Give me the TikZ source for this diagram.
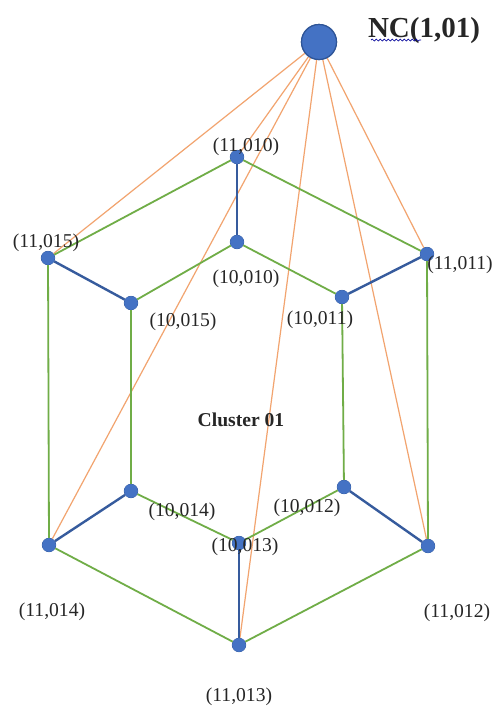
\documentclass[tikz,border=0pt]{standalone}
\usepackage{fontspec}
\setmainfont{Liberation Serif}
\usetikzlibrary{decorations.pathmorphing}
\definecolor{nblue}{HTML}{4472C4}
\definecolor{nblueedge}{HTML}{2F5597}
\definecolor{egreen}{HTML}{70AD47}
\definecolor{eorange}{HTML}{ED7D31}
\definecolor{ltxt}{HTML}{262626}
\tikzset{
  dot/.style={circle, fill=nblue, draw=nblueedge, line width=0.3pt, minimum size=6.8pt, inner sep=0pt},
  bigdot/.style={circle, fill=nblue, draw=nblueedge, line width=0.6pt, minimum size=17.5pt, inner sep=0pt},
  lbl/.style={font=\fontsize{9.8}{11}\selectfont, text=ltxt, inner sep=0pt},
  greenedge/.style={draw=egreen, line width=0.9pt},
  blueedge/.style={draw=nblue!80!black, line width=1.2pt},
  orangeedge/.style={draw=eorange!70!white, line width=0.6pt},
}
\begin{document}
\begin{tikzpicture}[x=0.5pt, y=-0.5pt]
\useasboundingbox (0,0) rectangle (501,713);
\fill[white] (0,0) rectangle (501,713);
% nodes
\node[bigdot] (nc) at (319,42) {};
\node[dot] (o10) at (237,157) {};
\node[dot] (i10) at (237,242) {};
\node[dot] (o15) at (48,258) {};
\node[dot] (i15) at (131,303) {};
\node[dot] (o11) at (427,254) {};
\node[dot] (i11) at (342,297) {};
\node[dot] (i14) at (131,491) {};
\node[dot] (o14) at (49,545) {};
\node[dot] (i13) at (239,543) {};
\node[dot] (o13) at (239,645) {};
\node[dot] (i12) at (344,487) {};
\node[dot] (o12) at (428,546) {};
% orange connectors
\draw[orangeedge] (nc) -- (o15);
\draw[orangeedge] (nc) -- (o10);
\draw[orangeedge] (nc) -- (o14);
\draw[orangeedge] (nc) -- (o13);
\draw[orangeedge] (nc) -- (o12);
\draw[orangeedge] (nc) -- (o11);
% green outer hexagon
\draw[greenedge] (o10) -- (o15) -- (o14) -- (o13) -- (o12) -- (o11) -- (o10);
% green inner hexagon
\draw[greenedge] (i10) -- (i15) -- (i14) -- (i13) -- (i12) -- (i11) -- (i10);
% blue spokes
\draw[blueedge] (o10) -- (i10);
\draw[blueedge] (o15) -- (i15);
\draw[blueedge] (o11) -- (i11);
\draw[blueedge] (o14) -- (i14);
\draw[blueedge] (o13) -- (i13);
\draw[blueedge] (o12) -- (i12);
% redraw dots on top
\foreach \n in {o10,i10,o15,i15,o11,i11,i14,o14,i13,o13,i12,o12}
  \fill[nblue] (\n) circle (3.4pt);
\fill[nblue, draw=nblueedge, line width=0.6pt] (nc) circle (8.75pt);
% labels
\node[font=\fontsize{14.5}{16}\selectfont\bfseries, text=ltxt, inner sep=0pt] (nct) at (424,31) {NC(1,01)};
\draw[draw=blue!60!black, line width=0.35pt, decorate, decoration={snake, amplitude=0.5pt, segment length=2pt}] (371,40) -- (421,40);
\node[lbl] (l010) at (246,147) {(11,010)};
\node[lbl] (l015) at (46,243) {(11,015)};
\node[lbl] (m010) at (246,279) {(10,010)};
\node[lbl] (m015) at (183,322) {(10,015)};
\node[lbl] (m011) at (320,320) {(10,011)};
\node[lbl] (l011) at (460,265) {(11,011)};
\node[font=\fontsize{9.8}{11}\selectfont\bfseries, text=ltxt, inner sep=0pt] (cl) at (241,420) {Cluster 01};
\node[lbl] (m014) at (182,512) {(10,014)};
\node[lbl] (m012) at (307,508) {(10,012)};
\node[lbl] (m013) at (245,547) {(10,013)};
\node[lbl] (l014) at (52,612) {(11,014)};
\node[lbl] (l012) at (457,613) {(11,012)};
\node[lbl] (l013) at (239,697) {(11,013)};
\end{tikzpicture}
\end{document}
